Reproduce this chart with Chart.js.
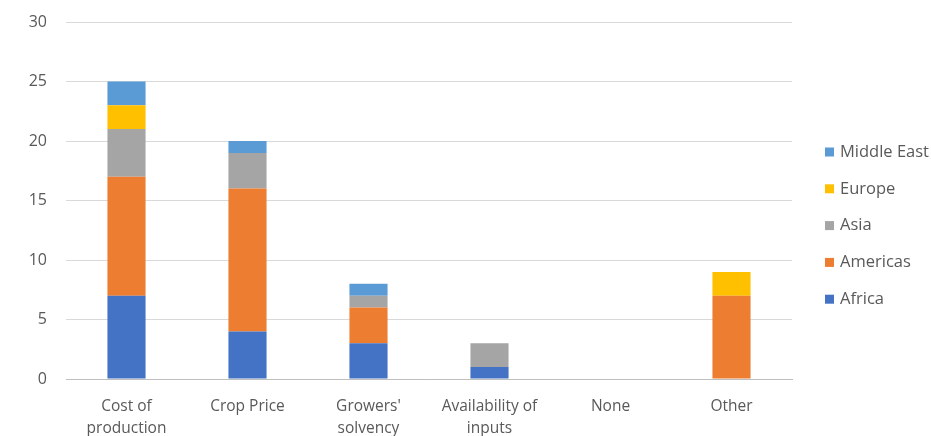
<!DOCTYPE html>
<html>
<head>
<meta charset="utf-8">
<script src="https://cdn.jsdelivr.net/npm/chart.js@4"></script>
<style>
  html, body { margin: 0; padding: 0; background: #fff; }
  #wrap { width: 931px; height: 436px; }
</style>
</head>
<body>
<div id="wrap"><canvas id="grafico"></canvas></div>
<script>
// Datos
const categorias = [["Cost of", "production"], "Crop Price", ["Growers'", "solvency"], ["Availability of", "inputs"], "None", "Other"];
const africa = [7, 4, 3, 1, 0, 0];
const americas = [10, 12, 3, 0, 0, 7];
const asia = [4, 3, 1, 2, 0, 0];
const europe = [2, 0, 0, 0, 0, 2];
const middleEast = [2, 1, 1, 0, 0, 0];
const ticksY = [0, 5, 10, 15, 20, 25, 30];

const textColor = "#595959";
const gridColor = "#d9d9d9";
const fuente = "'Open Sans', sans-serif";

// Leyenda dibujada a mano (orden inverso, como en Excel)
const leyenda = {
  id: "leyenda",
  afterDraw(chart) {
    const ctx = chart.ctx;
    const items = chart.data.datasets.slice().reverse();
    ctx.save();
    ctx.font = "16.5px " + fuente;
    ctx.textBaseline = "middle";
    items.forEach((ds, i) => {
      const y = 152 + i * 36.8;
      ctx.fillStyle = ds.backgroundColor;
      ctx.fillRect(825, y - 4.5, 9, 9);
      ctx.fillStyle = textColor;
      ctx.fillText(ds.label, 840, y);
    });
    ctx.restore();
  },
};

new Chart(document.getElementById("grafico"), {
  type: "bar",
  data: {
    labels: categorias,
    datasets: [
      { label: "Africa", data: africa, backgroundColor: "#4472C4" },
      { label: "Americas", data: americas, backgroundColor: "#ED7D31" },
      { label: "Asia", data: asia, backgroundColor: "#A5A5A5" },
      { label: "Europe", data: europe, backgroundColor: "#FFC000" },
      { label: "Middle East", data: middleEast, backgroundColor: "#5B9BD5" },
    ],
  },
  options: {
    responsive: true,
    maintainAspectRatio: false,
    animation: false,
    layout: { padding: { top: 22, right: 139, left: 0, bottom: 0 } },
    datasets: { bar: { barPercentage: 0.315, categoryPercentage: 1 } },
    plugins: {
      legend: { display: false },
      tooltip: { enabled: false },
    },
    scales: {
      x: {
        stacked: true,
        grid: { display: false },
        border: { color: "#bfbfbf" },
        ticks: { color: textColor, padding: 8, font: { size: 15.5, family: fuente, lineHeight: 1.45 }, maxRotation: 0 },
        afterFit(scale) { scale.height = 57; },
      },
      y: {
        stacked: true,
        min: 0,
        max: 30,
        afterBuildTicks(scale) { scale.ticks = ticksY.map((v) => ({ value: v })); },
        grid: { color: gridColor, drawTicks: false },
        border: { display: false },
        ticks: { color: textColor, padding: 19, font: { size: 16, family: fuente } },
        afterFit(scale) {
          scale.width = 66;
          scale.paddingTop = 0;
          scale.paddingBottom = 0;
        },
      },
    },
  },
  plugins: [leyenda],
});
</script>
</body>
</html>
